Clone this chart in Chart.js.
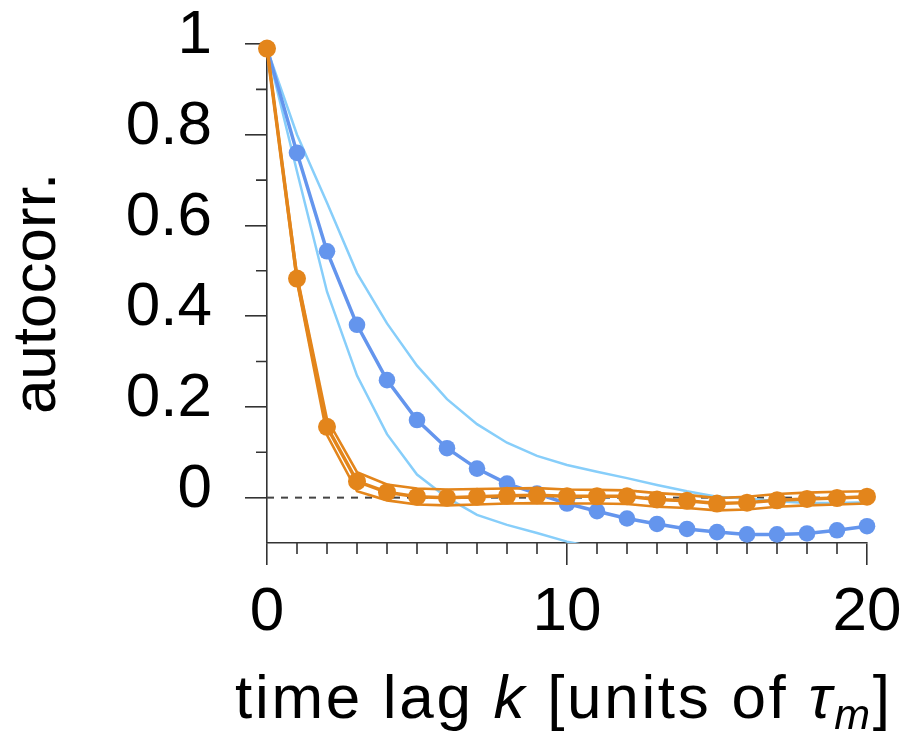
<!DOCTYPE html>
<html>
<head>
<meta charset="utf-8">
<script src="https://cdn.jsdelivr.net/npm/chart.js@4.4.1/dist/chart.umd.min.js"></script>
<style>
  html, body { margin: 0; padding: 0; background: #fff; }
</style>
</head>
<body>
<canvas id="chart" width="905" height="733"></canvas>
<script>
// lags k = 0..20
var lags = [0, 1, 2, 3, 4, 5, 6, 7, 8, 9, 10, 11, 12, 13, 14, 15, 16, 17, 18, 19, 20];

// blue series (slow decay) with its light band
var blueMid = [0.99, 0.760, 0.543, 0.381, 0.259, 0.171, 0.109, 0.064, 0.031, 0.009, -0.013,
               -0.030, -0.046, -0.058, -0.069, -0.076, -0.081, -0.081, -0.079, -0.072, -0.063];
var blueUp  = [0.99, 0.800, 0.650, 0.495, 0.384, 0.291, 0.217, 0.162, 0.121, 0.092, 0.072,
               0.057, 0.043, 0.028, 0.014, 0.002, -0.002, -0.008, -0.012, -0.012, -0.010];
var blueLo  = [0.99, 0.719, 0.454, 0.269, 0.140, 0.051, 0.000, -0.038, -0.060, -0.078, -0.097,
               -0.110, -0.125, -0.135, -0.145, -0.155, -0.160, -0.165, -0.165, -0.160, -0.150];

// orange series (fast decay) with its band
var orangeMid = [0.99, 0.483, 0.156, 0.036, 0.012, 0.002, 0.000, 0.002, 0.004, 0.005, 0.003,
                 0.003, 0.003, -0.004, -0.007, -0.013, -0.011, -0.006, -0.003, -0.001, 0.002];
var orangeUp  = [0.99, 0.490, 0.173, 0.056, 0.029, 0.020, 0.018, 0.019, 0.020, 0.021, 0.018,
                 0.017, 0.016, 0.010, 0.006, -0.001, 0.002, 0.008, 0.011, 0.013, 0.014];
var orangeLo  = [0.99, 0.476, 0.138, 0.014, -0.006, -0.015, -0.017, -0.015, -0.013, -0.012, -0.013,
                 -0.013, -0.014, -0.020, -0.023, -0.028, -0.026, -0.020, -0.017, -0.015, -0.013];

var zeroLine = [0, 0];
var zeroLags = [0, 20];

// ticks
var xMajor = [0, 10, 20];
var xMinor = [1, 2, 3, 4, 5, 6, 7, 8, 9, 11, 12, 13, 14, 15, 16, 17, 18, 19];
var yMajor = [0, 0.2, 0.4, 0.6, 0.8, 1];
var yMinor = [0.1, 0.3, 0.5, 0.7, 0.9];

var ORANGE = '#E3851B';
var BLUE = '#6495ED';
var LIGHTBLUE = '#87CEFA';
var AXIS = '#333';
var FONT = '"Liberation Sans", Arial, sans-serif';

const pts = (xs, arr) => arr.map((v, i) => ({x: xs[i], y: v}));
const noClip = {left: false, top: false, right: false, bottom: 0};

function bandLine(data, color, width, order) {
    return {
        data: pts(lags, data),
        borderColor: color,
        borderWidth: width,
        pointRadius: 0,
        tension: 0,
        clip: noClip,
        order: order
    };
}

// minor tick marks, not supported by chart.js itself
const minorTicks = {
    id: 'minorTicks',
    afterDraw(chart) {
        const {ctx, chartArea, scales} = chart;
        ctx.save();
        ctx.strokeStyle = AXIS;
        ctx.lineWidth = 1.6;
        ctx.beginPath();
        xMinor.forEach(v => {
            let px = scales.x.getPixelForValue(v);
            ctx.moveTo(px, chartArea.bottom);
            ctx.lineTo(px, chartArea.bottom + 11);
        });
        yMinor.forEach(v => {
            let py = scales.y.getPixelForValue(v);
            ctx.moveTo(chartArea.left, py);
            ctx.lineTo(chartArea.left - 11, py);
        });
        ctx.stroke();
        ctx.restore();
    }
};

// x axis title with italic k and tau_m
const xTitle = {
    id: 'xTitle',
    afterDraw(chart) {
        const ctx = chart.ctx;
        const parts = [
            {t: 'time lag ', f: '62px ' + FONT, dy: 0},
            {t: 'k', f: 'italic 62px ' + FONT, dy: 0},
            {t: ' [units of ', f: '62px ' + FONT, dy: 0},
            {t: '\u03C4', f: 'italic 62px ' + FONT, dy: 0},
            {t: 'm', f: 'italic 43px ' + FONT, dy: 11},
            {t: ']', f: '62px ' + FONT, dy: 0}
        ];
        const startX = 235, endX = 890, baseY = 718;
        ctx.save();
        ctx.fillStyle = '#000';
        ctx.textBaseline = 'alphabetic';
        ctx.textAlign = 'left';
        let natural = 0, chars = 0;
        parts.forEach(p => { ctx.font = p.f; natural += ctx.measureText(p.t).width; chars += p.t.length; });
        let sp = Math.max(0, (endX - startX - natural) / (chars - 1));
        let x = startX;
        parts.forEach(p => {
            ctx.font = p.f;
            for (const ch of p.t) {
                ctx.fillText(ch, x, baseY + p.dy);
                x += ctx.measureText(ch).width + sp;
            }
        });
        ctx.restore();
    }
};

const ctx = document.getElementById('chart').getContext('2d');

new Chart(ctx, {
    type: 'line',
    data: {
        datasets: [
            {
                data: pts(lags, orangeMid),
                borderColor: ORANGE,
                backgroundColor: ORANGE,
                borderWidth: 3.5,
                pointRadius: 9,
                pointBorderWidth: 0,
                tension: 0,
                clip: noClip,
                order: 0
            },
            bandLine(orangeUp, ORANGE, 2.6, 1),
            bandLine(orangeLo, ORANGE, 2.6, 1),
            {
                data: pts(lags, blueMid),
                borderColor: BLUE,
                backgroundColor: BLUE,
                borderWidth: 3.5,
                pointRadius: 8.3,
                pointBorderWidth: 0,
                tension: 0,
                clip: noClip,
                order: 2
            },
            bandLine(blueUp, LIGHTBLUE, 2.5, 3),
            bandLine(blueLo, LIGHTBLUE, 2.5, 3),
            {
                data: pts(zeroLags, zeroLine),
                borderColor: '#444',
                borderWidth: 2,
                borderDash: [7, 7],
                pointRadius: 0,
                order: 4
            }
        ]
    },
    options: {
        responsive: false,
        animation: false,
        devicePixelRatio: 1,
        layout: {padding: {left: 0, right: 38, top: 44, bottom: 0}},
        plugins: {
            legend: {display: false},
            tooltip: {enabled: false}
        },
        scales: {
            x: {
                type: 'linear',
                min: 0,
                max: 20,
                afterBuildTicks: scale => { scale.ticks = xMajor.map(v => ({value: v})); },
                afterFit: scale => {
                    scale.height = 190;
                    scale.paddingLeft = 0;
                    scale.paddingRight = 0;
                },
                grid: {drawOnChartArea: false, drawTicks: true, tickLength: 22, color: AXIS, lineWidth: 1.6},
                border: {display: true, color: AXIS, width: 1.6},
                ticks: {
                    color: '#000',
                    padding: 11,
                    maxRotation: 0,
                    font: {family: FONT, size: 62}
                }
            },
            y: {
                min: -0.1,
                max: 1,
                afterBuildTicks: scale => { scale.ticks = yMajor.map(v => ({value: v})); },
                afterFit: scale => {
                    scale.width = 267;
                    scale.paddingTop = 0;
                    scale.paddingBottom = 0;
                },
                grid: {drawOnChartArea: false, drawTicks: true, tickLength: 22, color: AXIS, lineWidth: 1.6},
                border: {display: true, color: AXIS, width: 1.6},
                ticks: {
                    color: '#000',
                    padding: 33,
                    labelOffset: -8,
                    font: {family: FONT, size: 62},
                    callback: v => String(Math.round(v * 10) / 10)
                },
                title: {
                    display: true,
                    text: 'autocorr.',
                    color: '#000',
                    padding: {top: 1, bottom: 0},
                    font: {family: FONT, size: 62}
                }
            }
        }
    },
    plugins: [minorTicks, xTitle]
});
</script>
</body>
</html>
